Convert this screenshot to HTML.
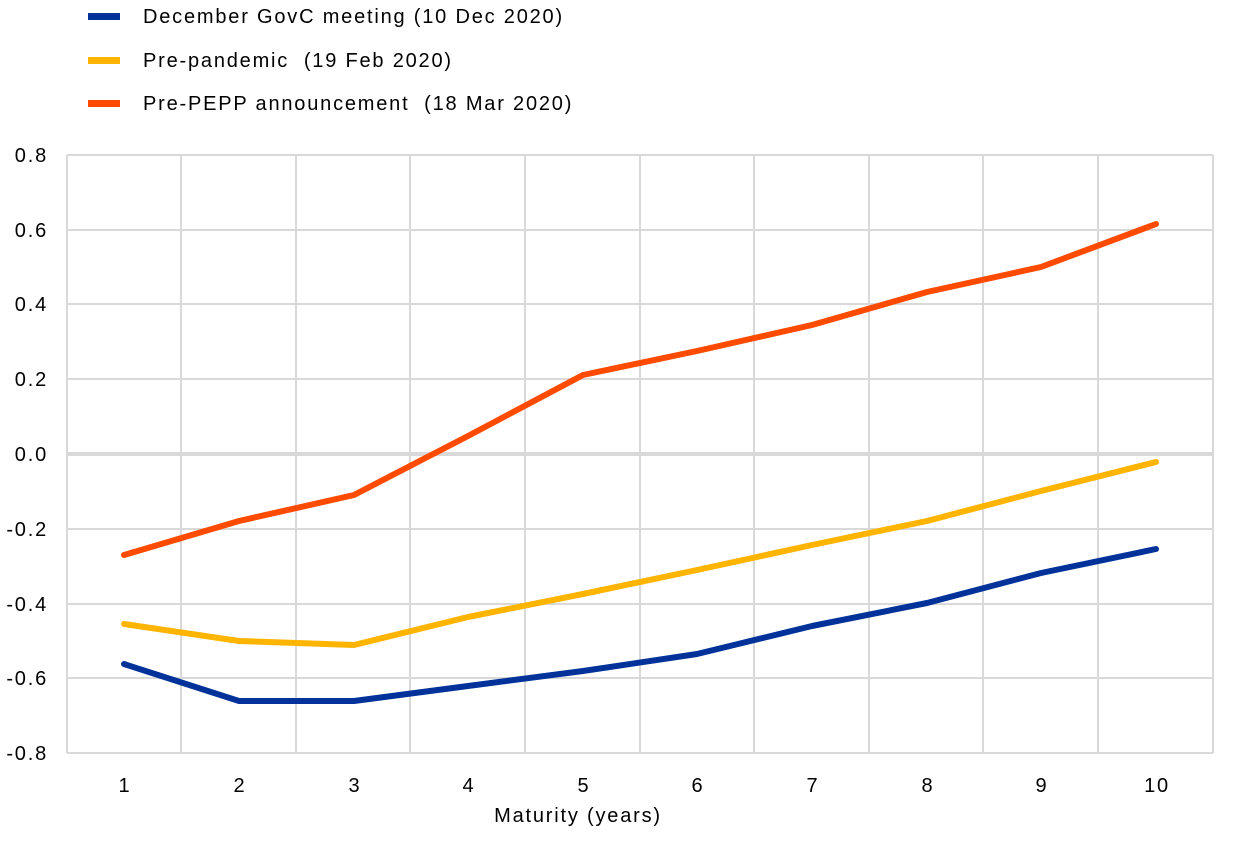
<!DOCTYPE html>
<html><head><meta charset="utf-8"><style>
body{margin:0;background:#fff;}
svg{display:block;font-family:"Liberation Sans",Arial,sans-serif;}
text{letter-spacing:1.8px;}
</style></head><body>
<svg width="1240" height="851" viewBox="0 0 1240 851">
<g stroke="#d9d9d9" stroke-width="2">
<line x1="67" y1="155" x2="1213" y2="155"/>
<line x1="67" y1="230" x2="1213" y2="230"/>
<line x1="67" y1="304" x2="1213" y2="304"/>
<line x1="67" y1="379" x2="1213" y2="379"/>
<line x1="67" y1="529" x2="1213" y2="529"/>
<line x1="67" y1="604" x2="1213" y2="604"/>
<line x1="67" y1="678" x2="1213" y2="678"/>
<line x1="67" y1="753" x2="1213" y2="753"/>
<line x1="67" y1="155" x2="67" y2="753"/>
<line x1="181" y1="155" x2="181" y2="753"/>
<line x1="296" y1="155" x2="296" y2="753"/>
<line x1="410" y1="155" x2="410" y2="753"/>
<line x1="525" y1="155" x2="525" y2="753"/>
<line x1="640" y1="155" x2="640" y2="753"/>
<line x1="754" y1="155" x2="754" y2="753"/>
<line x1="869" y1="155" x2="869" y2="753"/>
<line x1="983" y1="155" x2="983" y2="753"/>
<line x1="1098" y1="155" x2="1098" y2="753"/>
<line x1="1213" y1="155" x2="1213" y2="753"/>
</g>
<line x1="67" y1="454" x2="1213" y2="454" stroke="#d9d9d9" stroke-width="4"/>
<g fill="none" stroke-width="6" stroke-linejoin="round" stroke-linecap="round">
<polyline stroke="#FF4B00" points="124,555 239,521 354,495 468,436 583,375 697,351 812,325 927,292 1041,267 1156,224"/>
<polyline stroke="#FFB400" points="124,624 239,641 354,645 468,617 583,594 697,570 812,545 927,521 1041,491 1156,462"/>
<polyline stroke="#003299" points="124,664 239,701 354,701 468,686 583,671 697,654 812,626 927,603 1041,573 1156,549"/>
</g>
<g font-size="20" fill="#000" text-anchor="end">
<text x="48" y="162">0.8</text><text x="48" y="237">0.6</text><text x="48" y="311">0.4</text>
<text x="48" y="386">0.2</text><text x="48" y="461">0.0</text><text x="48" y="536">-0.2</text>
<text x="48" y="611">-0.4</text><text x="48" y="685">-0.6</text><text x="48" y="760">-0.8</text>
</g>
<g font-size="20" fill="#000" text-anchor="middle">
<text x="125" y="792">1</text><text x="240" y="792">2</text><text x="355" y="792">3</text>
<text x="469" y="792">4</text><text x="584" y="792">5</text><text x="698" y="792">6</text>
<text x="813" y="792">7</text><text x="928" y="792">8</text><text x="1042" y="792">9</text>
<text x="1157" y="792">10</text>
<text x="578" y="822">Maturity (years)</text>
</g>
<rect x="88" y="13" width="32" height="7" fill="#003299"/>
<rect x="88" y="57" width="32" height="7" fill="#FFB400"/>
<rect x="88" y="100" width="32" height="7" fill="#FF4B00"/>
<g font-size="20" fill="#000">
<text x="143" y="23">December GovC meeting (10 Dec 2020)</text>
<text x="143" y="67" xml:space="preserve">Pre-pandemic  (19 Feb 2020)</text>
<text x="143" y="110" xml:space="preserve">Pre-PEPP announcement  (18 Mar 2020)</text>
</g>
</svg>
</body></html>
